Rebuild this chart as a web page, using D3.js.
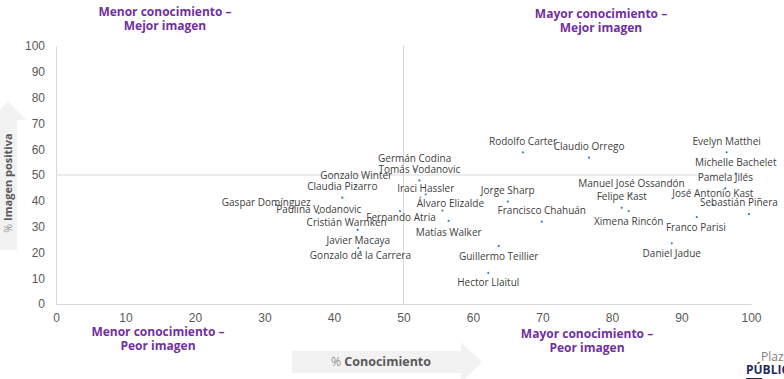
<!DOCTYPE html>
<html>
<head>
<meta charset="utf-8">
<script src="https://cdn.jsdelivr.net/npm/d3@7"></script>
<style>
  body { margin: 0; background: #fff; }
  svg { display: block; font-family: "Open Sans", "Noto Sans", sans-serif; }
</style>
</head>
<body>
<div id="chart"></div>
<script>
// data
const names = ["Gaspar Domínguez", "Paulina Vodanovic", "Gonzalo Winter", "Claudia Pizarro", "Cristián Warnken",
  "Javier Macaya", "Gonzalo de la Carrera", "Fernando Atria", "Germán Codina", "Tomás Vodanovic",
  "Iraci Hassler", "Álvaro Elizalde", "Matías Walker", "Rodolfo Carter", "Claudio Orrego",
  "Jorge Sharp", "Francisco Chahuán", "Guillermo Teillier", "Hector Llaitul", "Manuel José Ossandón",
  "Felipe Kast", "Ximena Rincón", "Daniel Jadue", "Franco Parisi", "José Antonio Kast",
  "Sebastián Piñera", "Pamela Jilés", "Michelle Bachelet", "Evelyn Matthei"];
const conocimiento = [31.7, 37.8, 43.2, 41.2, 43.4, 43.5, 43.8, 49.5, 51.6, 52.3,
  53.2, 55.6, 56.5, 67.2, 76.7, 65.0, 69.9, 63.7, 62.2, 82.8,
  81.4, 82.4, 88.6, 92.2, 94.5, 99.7, 96.3, 97.8, 96.5];
const imagenPositiva = [38.4, 35.2, 45.5, 41.2, 28.7, 21.7, 20.2, 36.0, 52.2, 47.9,
  42.5, 36.2, 32.2, 58.8, 56.7, 39.7, 31.9, 22.5, 12.1, 42.4,
  37.3, 36.0, 23.5, 33.7, 38.5, 34.8, 44.8, 50.5, 58.8];
const xTicks = [0, 10, 20, 30, 40, 50, 60, 70, 80, 90, 100];
const yTicks = [0, 10, 20, 30, 40, 50, 60, 70, 80, 90, 100];

// label placement: default is above the point, these are the hand-placed ones
const labelNudge = {
  "Gaspar Domínguez": [-10, -2], "Paulina Vodanovic": [0, -3], "Cristián Warnken": [-11, -7],
  "Javier Macaya": [0, -7], "Gonzalo de la Carrera": [0, 4], "Fernando Atria": [1, 7],
  "Iraci Hassler": [0, -5], "Álvaro Elizalde": [8, -6], "Matías Walker": [0, 12],
  "Guillermo Teillier": [0, 11], "Hector Llaitul": [0, 11], "Ximena Rincón": [0, 11],
  "Daniel Jadue": [0, 11], "Franco Parisi": [-1, 11], "Sebastián Piñera": [-10, -11]
};

const data = names.map((n, i) => ({ name: n, x: conocimiento[i], y: imagenPositiva[i] }));

const width = 784, height = 379;
const svg = d3.select("#chart").append("svg")
  .attr("width", width)
  .attr("height", height);

const x = d3.scaleLinear().domain([0, 100]).range([56, 751]);
const y = d3.scaleLinear().domain([0, 100]).range([304, 46]);

// axes
const xAxis = svg.append("g")
  .attr("transform", `translate(0,${y(0)})`)
  .call(d3.axisBottom(x).tickValues(xTicks).tickSize(0).tickPadding(9).tickSizeOuter(0));
const yAxis = svg.append("g")
  .attr("transform", `translate(${x(0)},0)`)
  .call(d3.axisLeft(y).tickValues(yTicks).tickSize(0).tickPadding(11).tickSizeOuter(0));

[xAxis, yAxis].forEach(g => {
  g.select(".domain").attr("stroke", "#d9d9d9").attr("stroke-width", 1);
  g.selectAll("text")
    .attr("fill", "#595959")
    .style("font-size", "12px")
    .style("font-weight", 300);
});

// quadrant lines
svg.append("line")
  .attr("x1", x(0)).attr("x2", x(100))
  .attr("y1", y(50)).attr("y2", y(50))
  .attr("stroke", "#d9d9d9");
svg.append("line")
  .attr("x1", x(50)).attr("x2", x(50))
  .attr("y1", y(100)).attr("y2", y(0))
  .attr("stroke", "#d9d9d9");

// points
svg.append("g")
  .selectAll("circle")
  .data(data)
  .enter()
  .append("circle")
  .attr("cx", d => x(d.x))
  .attr("cy", d => y(d.y))
  .attr("r", 1.1)
  .attr("fill", "#2e86c1");

// point labels
svg.append("g")
  .selectAll("text")
  .data(data)
  .enter()
  .append("text")
  .attr("x", d => x(d.x) + (labelNudge[d.name] ? labelNudge[d.name][0] : 0))
  .attr("y", d => y(d.y) + (labelNudge[d.name] ? labelNudge[d.name][1] : -10))
  .attr("text-anchor", "middle")
  .attr("dominant-baseline", "middle")
  .attr("fill", "#404040")
  .style("font-size", "10px")
  .text(d => d.name);

// quadrant titles
const quadrants = [
  { lines: ["Menor conocimiento –", "Mejor imagen"], cx: 165, cy: 13 },
  { lines: ["Mayor conocimiento –", "Mejor imagen"], cx: 601, cy: 15 },
  { lines: ["Menor conocimiento –", "Peor imagen"], cx: 158, cy: 333 },
  { lines: ["Mayor conocimiento –", "Peor imagen"], cx: 587, cy: 335 }
];
quadrants.forEach(q => {
  const t = svg.append("text")
    .attr("text-anchor", "middle")
    .attr("fill", "#7030a0")
    .style("font-size", "12px")
    .style("font-weight", "bold");
  q.lines.forEach((l, i) => {
    t.append("tspan")
      .attr("x", q.cx)
      .attr("y", q.cy + i * 14)
      .attr("dominant-baseline", "middle")
      .text(l);
  });
});

// axis arrows
svg.append("path")
  .attr("d", "M-1,250 L17,250 L17,120 L27,120 L8,101 L-11,120 L-1,120 Z")
  .attr("fill", "#f2f2f2");
svg.append("text")
  .attr("transform", "translate(9,183) rotate(-90)")
  .attr("text-anchor", "middle")
  .attr("dominant-baseline", "middle")
  .attr("fill", "#595959")
  .style("font-size", "11px")
  .html('<tspan style="font-weight:300">% </tspan><tspan style="font-weight:bold">Imagen positiva</tspan>');

svg.append("path")
  .attr("d", "M292,351 L461,351 L461,342 L482,362 L461,382 L461,373 L292,373 Z")
  .attr("fill", "#f2f2f2");
svg.append("text")
  .attr("x", 381).attr("y", 363)
  .attr("text-anchor", "middle")
  .attr("dominant-baseline", "middle")
  .attr("fill", "#595959")
  .style("font-size", "12.5px")
  .html('<tspan style="font-weight:300">% </tspan><tspan style="font-weight:bold">Conocimiento</tspan>');

// logo (cut off at the edge, as in the original)
svg.append("text")
  .attr("x", 761).attr("y", 361)
  .attr("fill", "#7f7f7f")
  .style("font-size", "12px")
  .text("Plaza");
svg.append("text")
  .attr("x", 746).attr("y", 374)
  .attr("fill", "#1f2a5c")
  .style("font-size", "12px")
  .style("font-weight", "bold")
  .text("PÚBLICA");
svg.append("line")
  .attr("x1", 746).attr("x2", 762)
  .attr("y1", 378.5).attr("y2", 378.5)
  .attr("stroke", "#1f2a5c");
</script>
</body>
</html>
